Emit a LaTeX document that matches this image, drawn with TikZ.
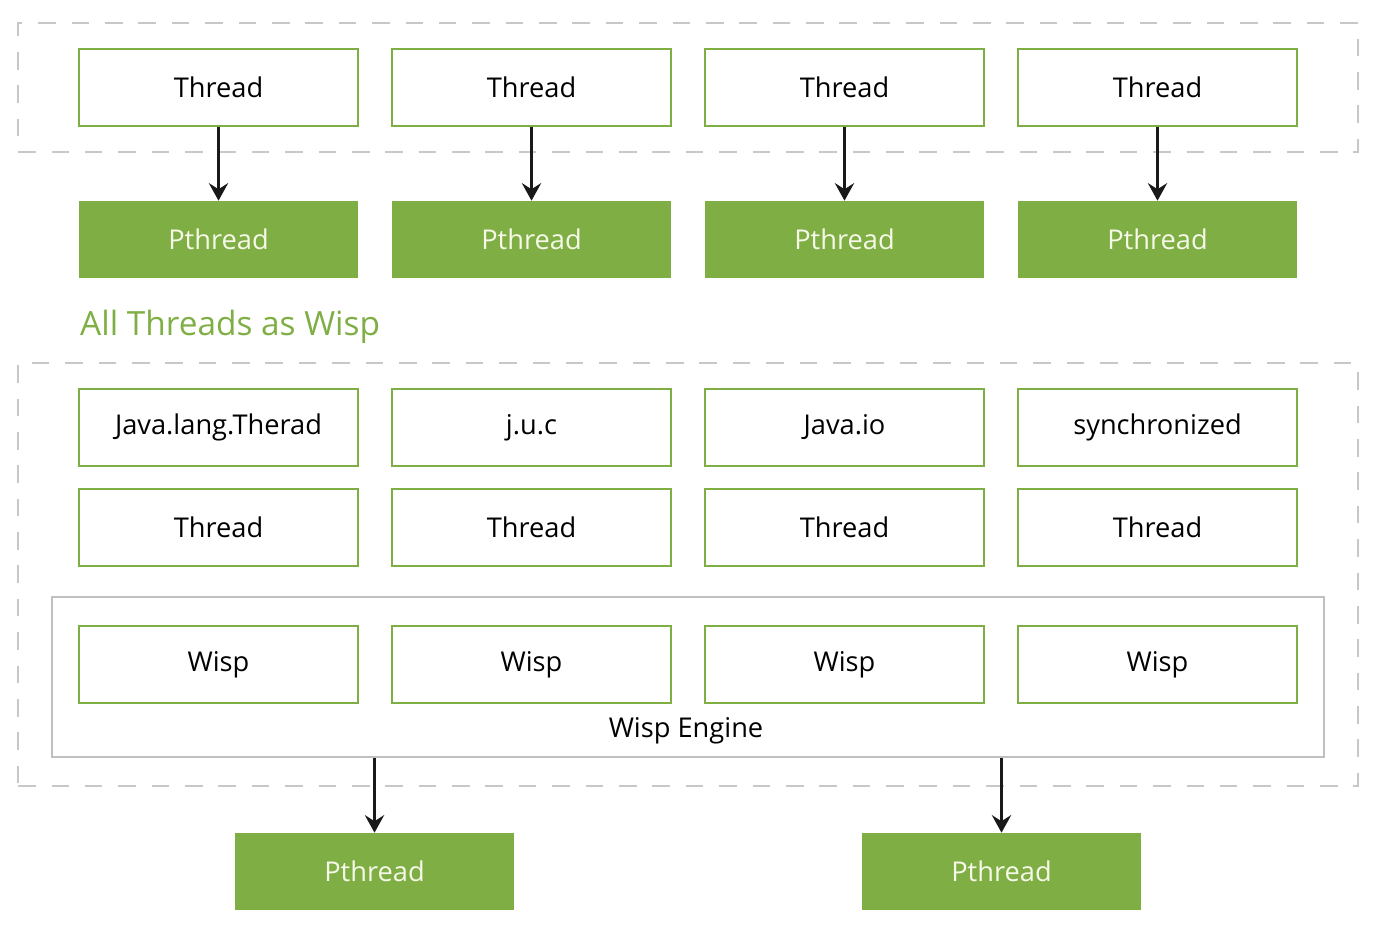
\documentclass[tikz,border=0pt]{standalone}
\usepackage{fontspec}
\setmainfont{Open Sans}
\usepackage{tikz}
\usepackage{xcolor}
\usetikzlibrary{arrows.meta, positioning}
\definecolor{colGreen}{RGB}{127,174,69}
\definecolor{colEdge}{RGB}{127,174,69}
\definecolor{colDash}{RGB}{200,200,200}
\definecolor{colEngine}{RGB}{192,192,192}
\definecolor{colPText}{RGB}{246,249,232}

\begin{document}
\begin{tikzpicture}[
  x=0.02cm, y=-0.02cm,
  arr/.style={-{Stealth[length=10pt, width=11pt, inset=3.5pt]}, line width=1.4pt, black!90},
  javabox/.style={draw=colEdge, line width=1.1pt, fill=white, minimum width=5.58cm,
                  minimum height=1.54cm, font=\fontsize{15.5}{18}\selectfont, inner sep=0pt},
  pbox/.style={fill=colGreen, text=colPText, minimum width=5.58cm, minimum height=1.54cm,
               font=\fontsize{15.5}{18}\selectfont, inner sep=0pt},
  group/.style={draw=colDash, line width=1.2pt, dash pattern=on 10pt off 9pt, inner sep=0pt},
]
\useasboundingbox (0,0) rectangle (1389,941);

% dashed groups
\node[group, minimum width=26.8cm, minimum height=2.58cm] (topgrp) at (688,87.5) {};
\node[group, minimum width=26.8cm, minimum height=8.46cm] (wispgrp) at (688,574.5) {};

% engine frame
\node[draw=colEngine, line width=1.1pt, minimum width=25.44cm, minimum height=3.2cm,
      inner sep=0pt] (engine) at (688,677) {};
\node[font=\fontsize{15.5}{18}\selectfont] (enginelbl) at (686,731) {Wisp Engine};

% title
\node[anchor=west, text=colGreen, font=\fontsize{19}{22}\selectfont] (title) at (74,327)
  {All Threads as Wisp};

% one column per thread
\foreach \i/\x/\api in {1/218.5/Java.lang.Therad, 2/531.5/j.u.c, 3/844.5/Java.io, 4/1157.5/synchronized} {
  \node[javabox] (th\i) at (\x,87.5) {Thread};
  \node[pbox] (pt\i) at (\x,239.5) {Pthread};
  \draw[arr] (th\i) -- (pt\i);
  \node[javabox] (api\i) at (\x,427.5) {\api};
  \node[javabox] (wt\i) at (\x,527.5) {Thread};
  \node[javabox] (wisp\i) at (\x,664.5) {Wisp};
}

% carrier pthreads
\node[pbox] (wpt1) at (374.5,871.5) {Pthread};
\node[pbox] (wpt2) at (1001.5,871.5) {Pthread};
\draw[arr] (engine.south -| wpt1) -- (wpt1.north);
\draw[arr] (engine.south -| wpt2) -- (wpt2.north);

\end{tikzpicture}
\end{document}
